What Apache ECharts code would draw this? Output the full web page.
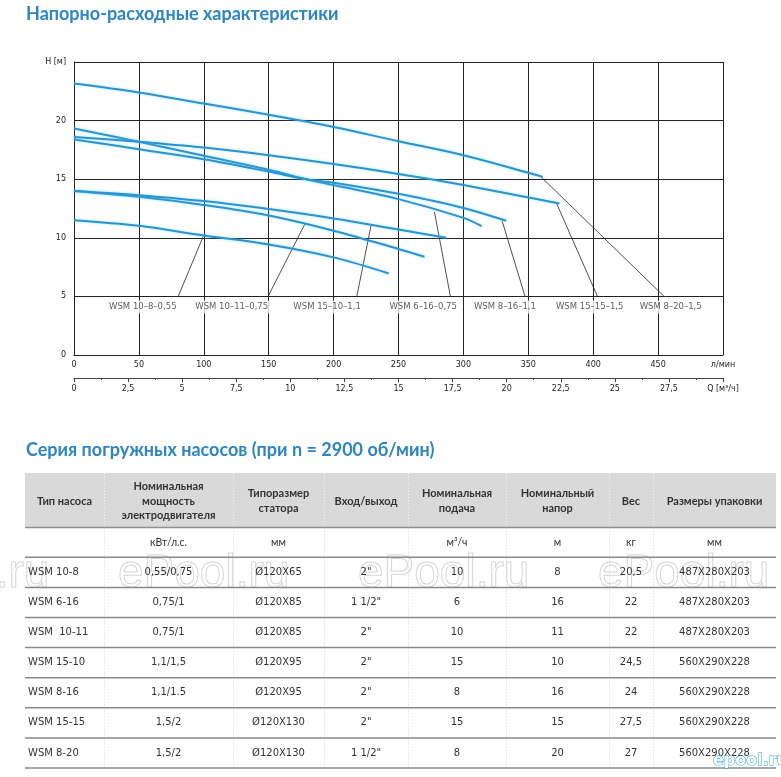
<!DOCTYPE html>
<html><head><meta charset="utf-8">
<script src="https://cdn.jsdelivr.net/npm/echarts@6/dist/echarts.min.js"></script>
<style>html,body{margin:0;padding:0;background:#fff}#c{width:781px;height:777px}</style>
</head><body><div id="c"></div>
<script>
// ---- chart data ----
const chartTitle = 'Напорно-расходные характеристики';
const tableTitle = 'Серия погружных насосов (при n = 2900 об/мин)';
const curveNames = ['WSM 10–8–0,55','WSM 10–11–0,75','WSM 15–10–1,1','WSM 6–16–0,75','WSM 8–16–1,1','WSM 15–15–1,5','WSM 8–20–1,5'];
const flow_10_8  = [0, 50, 100, 150, 200, 242.5];
const head_10_8  = [11.5, 11.02, 10.2, 9.43, 8.33, 6.96];
const flow_10_11 = [0, 50, 100, 150, 200, 250, 270];
const head_10_11 = [14.0, 13.5, 12.8, 11.9, 10.6, 9.05, 8.38];
const flow_15_10 = [0, 50, 100, 150, 200, 250, 286.7];
const head_15_10 = [14.0, 13.64, 13.13, 12.45, 11.65, 10.7, 10.0];
const flow_6_16  = [0, 50, 100, 150, 180, 200, 250, 300, 314];
const head_6_16  = [19.32, 18.2, 17.0, 15.8, 14.97, 14.5, 13.3, 11.7, 11.0];
const flow_8_16  = [0, 50, 100, 150, 180, 200, 250, 300, 333];
const head_8_16  = [18.39, 17.56, 16.7, 15.65, 14.97, 14.7, 13.75, 12.55, 11.45];
const flow_15_15 = [0, 50, 100, 150, 200, 250, 300, 340, 374];
const head_15_15 = [18.61, 18.2, 17.7, 17.05, 16.3, 15.45, 14.5, 13.65, 12.93];
const flow_8_20  = [0, 50, 100, 150, 200, 250, 300, 350, 361];
const head_8_20  = [23.16, 22.4, 21.45, 20.5, 19.46, 18.24, 17.05, 15.55, 15.2];
const curveFlows = [flow_10_8, flow_10_11, flow_15_10, flow_6_16, flow_8_16, flow_15_15, flow_8_20];
const curveHeads = [head_10_8, head_10_11, head_15_10, head_6_16, head_8_16, head_15_15, head_8_20];
// callouts (axis units)
const labelQ      = [53, 121.5, 195, 269, 332, 397.3, 459.7];
const labelH      = 4.1;
const leaderFootQ = [80.3, 149.5, 217.9, 290, 347.5, 403.3, 454.6];
const leaderFootH = 5;
const leaderTipQ  = [99.5, 178, 229, 277.7, 329.8, 371.8, 359.8];
const leaderTipH  = [10.1, 11.2, 11.14, 12.2, 11.45, 12.93, 15.2];
// axes
const flowMax = 500, flowStep = 50, flowUnit = 'л/мин';
const qMax = 30, qStep = 2.5, qUnit = 'Q [м³/ч]';
const headMax = 25, headStep = 5, headUnit = 'H [м]';

// ---- table data ----
const headers = [['Тип насоса'],['Номинальная','мощность','электродвигателя'],['Типоразмер','статора'],['Вход/выход'],['Номинальная','подача'],['Номинальный','напор'],['Вес'],['Размеры упаковки']];
const units = ['', 'кВт/л.с.', 'мм', '', 'м³/ч', 'м', 'кг', 'мм'];
const pumpTypes = ['WSM 10-8','WSM 6-16','WSM  10-11','WSM 15-10','WSM 8-16','WSM 15-15','WSM 8-20'];
const power     = ['0,55/0,75','0,75/1','0,75/1','1,1/1,5','1,1/1.5','1,5/2','1,5/2'];
const stator    = ['Ø120X65','Ø120X85','Ø120X85','Ø120X95','Ø120X95','Ø120X130','Ø120X130'];
const inlet     = ['2"','1 1/2"','2"','2"','2"','2"','1 1/2"'];
const nomFlow   = ['10','6','10','15','8','15','8'];
const nomHead   = ['8','16','11','10','16','15','20'];
const weight    = ['20,5','22','22','24,5','24','27,5','27'];
const packSize  = ['487X280X203','487X280X203','487X280X203','560X290X228','560X290X228','560X290X228','560X290X228'];
const tableCols = [pumpTypes, power, stator, inlet, nomFlow, nomHead, weight, packSize];
const watermark = 'ePool.ru';
const logo = 'epool.ru';

// ---- layout/style ----
const blue = '#2d86c2';
const curveColor = '#2c93cc';
const colEdges = [25,104,233,324,408,506,609,653,776];
const headTop = 473, headBot = 527.5, unitBot = 557.3, rowH = 30.1;

const chart = echarts.init(document.getElementById('c'), null, {renderer:'canvas'});
const fmtComma = v => String(v).replace('.', ',');

const series = [];
curveNames.forEach((n, i) => {
  series.push({
    type:'line', name:n, xAxisIndex:0, yAxisIndex:0,
    data: curveFlows[i].map((q, k) => [q, curveHeads[i][k]]),
    smooth:0.35, showSymbol:false, silent:true, z:5,
    lineStyle:{color:curveColor, width:2, shadowColor:'rgba(80,210,255,0.55)', shadowBlur:3}
  });
});
series.push({
  type:'lines', coordinateSystem:'cartesian2d', xAxisIndex:0, yAxisIndex:0, silent:true, z:3,
  lineStyle:{color:'#222', width:0.8, opacity:1},
  data: curveNames.map((n,i)=>({coords:[[leaderFootQ[i], leaderFootH],[leaderTipQ[i], leaderTipH[i]]]}))
});
series.push({
  type:'scatter', xAxisIndex:0, yAxisIndex:0, silent:true, z:6,
  symbol:'rect', symbolSize:1, itemStyle:{color:'rgba(0,0,0,0)'},
  label:{show:true, position:'inside', formatter:p=>p.name, color:'#333',
    fontFamily:'DejaVu Sans', fontSize:8.5, backgroundColor:'#fff', padding:[2,3]},
  data: curveNames.map((n,i)=>({name:n, value:[labelQ[i], labelH]}))
});

// graphics: titles + table
const g = [];
g.push({type:'text', left:26, top:5, style:{text:chartTitle, font:'bold 18px Lato', fill:blue}});
g.push({type:'text', left:26, top:441, style:{text:tableTitle, font:'bold 18px Lato', fill:blue}});
const W = colEdges[colEdges.length-1] - colEdges[0];
g.push({type:'rect', shape:{x:colEdges[0], y:headTop, width:W, height:headBot-headTop}, style:{fill:'#d9d9d9'}, z:1});
const rowLines = [headBot, unitBot];
for (let r = 1; r <= pumpTypes.length; r++) rowLines.push(unitBot + r*rowH);
rowLines.forEach((y, k) => {
  g.push({type:'line', shape:{x1:colEdges[0], y1:y, x2:colEdges[colEdges.length-1], y2:y},
    style:{stroke: k===0 ? '#8f8f8f' : '#8a8a8a', lineWidth:1.5}, z:3});
});
const tableBottom = rowLines[rowLines.length-1];
for (let c = 1; c < colEdges.length-1; c++) {
  const x = colEdges[c] + 0.5;
  g.push({type:'line', shape:{x1:x, y1:headTop, x2:x, y2:headBot}, style:{stroke:'#f2f2f2', lineWidth:1, lineDash:[1,2]}, z:2});
  g.push({type:'line', shape:{x1:x, y1:headBot, x2:x, y2:tableBottom}, style:{stroke:'#d2d2d2', lineWidth:1, lineDash:[1,2]}, z:2});
}
// watermarks
[-122, 118, 358, 598].forEach(x => {
  g.push({type:'text', x:x, y:597, style:{text:watermark, font:'46px "Liberation Sans"', fill:'rgba(255,255,255,0)', stroke:'#d6d6d6', lineWidth:1, textVerticalAlign:'bottom'}, z:2});
});
for (let c = 0; c < headers.length; c++) {
  const cx = (colEdges[c] + colEdges[c+1]) / 2;
  g.push({type:'text', x:cx, y:501, style:{text:headers[c].join('\n'), font:'bold 11px Lato', fill:'#333', textAlign:'center', textVerticalAlign:'middle', lineHeight:14.3}, z:4});
  if (units[c]) g.push({type:'text', x:cx, y:543, style:{text:units[c], font:'10.5px Lato', fill:'#333', textAlign:'center', textVerticalAlign:'middle'}, z:4});
  tableCols[c].forEach((v, r) => {
    const y = unitBot + rowH*(r+0.5);
    g.push({type:'text', x: c===0 ? 28 : cx, y:y, style:{text:v, font:'10px "DejaVu Sans"', fill:'#333', textAlign: c===0 ? 'left' : 'center', textVerticalAlign:'middle'}, z:4});
  });
}
g.push({type:'text', x:713, y:761, style:{text:logo, font:'bold 16px "DejaVu Sans"', fill:'#fff', stroke:'#2aa6de', lineWidth:1, textVerticalAlign:'middle'}, z:5});

const axisFont = {fontFamily:'DejaVu Sans', fontSize:8, color:'#222'};
chart.setOption({
  animation:false,
  grid:{left:74, right:58, top:62, bottom:422, containLabel:false},
  xAxis:[
    {type:'value', min:0, max:flowMax, interval:flowStep, position:'bottom',
     axisLine:{show:true, lineStyle:{color:'#222', width:1}}, axisTick:{show:false},
     splitLine:{show:true, lineStyle:{color:'#222', width:1}},
     axisLabel:Object.assign({margin:6, showMaxLabel:true, formatter:v=> v===flowMax ? flowUnit : String(v)}, axisFont)},
    {type:'value', min:0, max:qMax, interval:qStep, position:'bottom', offset:23,
     axisLine:{show:true, onZero:false, lineStyle:{color:'#444', width:1}},
     axisTick:{show:true, length:4, lineStyle:{color:'#444'}},
     minorTick:{show:true, splitNumber:2, length:2, lineStyle:{color:'#444'}},
     splitLine:{show:false},
     axisLabel:Object.assign({margin:7, showMaxLabel:true, formatter:v=> v===qMax ? qUnit : fmtComma(v)}, axisFont)}
  ],
  yAxis:{type:'value', min:0, max:headMax, interval:headStep,
    axisLine:{show:true, lineStyle:{color:'#222', width:1}}, axisTick:{show:false},
    splitLine:{show:true, lineStyle:{color:'#222', width:1}},
    axisLabel:Object.assign({margin:8, formatter:v=> v===headMax ? headUnit : String(v)}, axisFont)},
  series: series,
  graphic: g
});
</script></body></html>
